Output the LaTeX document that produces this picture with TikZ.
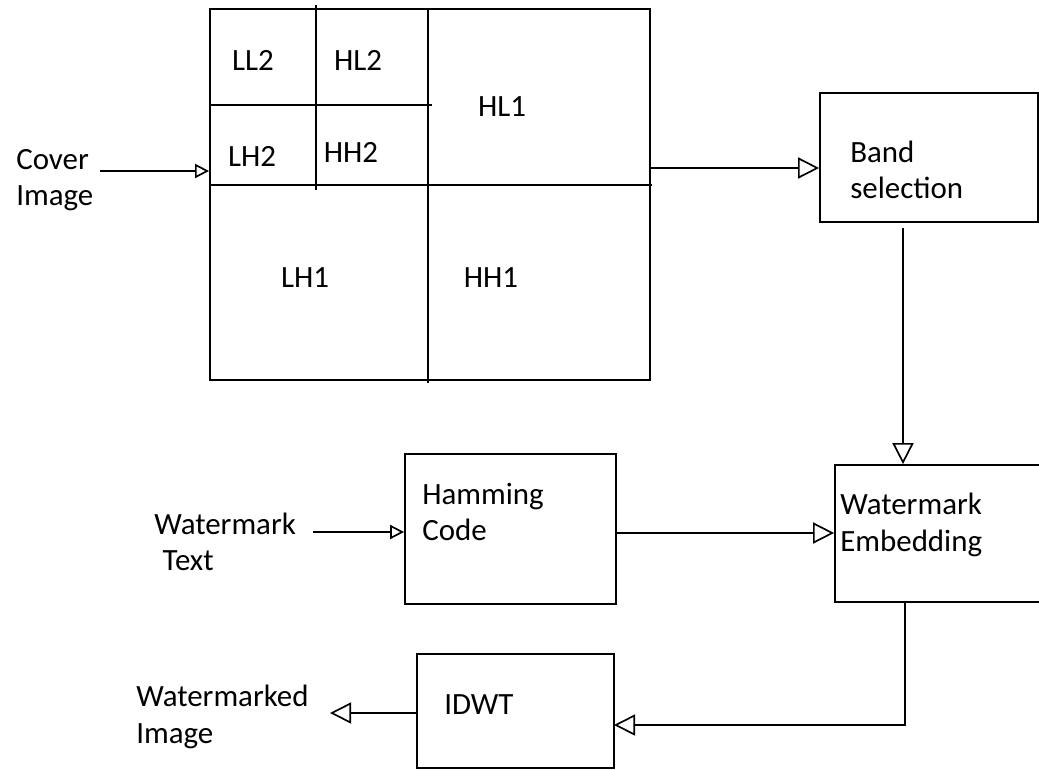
\documentclass[tikz,border=0pt]{standalone}
\usepackage{fontspec}
\setmainfont{Carlito}
\usepackage{tikz}
\usetikzlibrary{positioning, arrows.meta}
\tikzset{
    base/.style={draw, line width=1.2pt},
    block/.style={base, rectangle, inner sep=0pt},
    label/.style={inner sep=0pt, align=left, font=\fontsize{22}{26}\selectfont},
    band/.style={inner sep=0pt, font=\fontsize{22}{26}\selectfont},
    arrow/.style={line width=1.2pt, -{Triangle[open, length=15pt, width=15pt]}},
    smallarrow/.style={line width=1.2pt, -{Triangle[open, length=10pt, width=10pt]}},
    line/.style={draw, line width=1.2pt}
}

\begin{document}
\begin{tikzpicture}[x=0.025cm, y=-0.025cm]
    \useasboundingbox (0,0) rectangle (1039,770);

    % Decomposition
    \node[block, minimum width=11cm, minimum height=9.275cm] (dwt) at (430,194.5) {};
    \draw[line] (210,185) -- (652,185);
    \draw[line] (428,9) -- (428,383);
    \draw[line] (316,5) -- (316,190);
    \draw[line] (210,105) -- (432,105);

    \node[band] (ll2) at (253,60) {LL2};
    \node[band] (hl2) at (358,60) {HL2};
    \node[band] (hl1) at (502,107) {HL1};
    \node[band] (lh2) at (252,156) {LH2};
    \node[band] (hh2) at (351,152) {HH2};
    \node[band] (lh1) at (305,278) {LH1};
    \node[band] (hh1) at (491,278) {HH1};

    % Blocks
    \node[block, minimum width=5.45cm, minimum height=3.225cm] (select) at (929,157.5) {};
    \node[block, minimum width=5.3cm, minimum height=3.425cm] (embed) at (941,533.5) {};
    \node[block, minimum width=5.275cm, minimum height=3.75cm] (hamming) at (510.5,529) {};
    \node[block, minimum width=4.925cm, minimum height=2.85cm] (idwt) at (515.5,711) {};

    \node[label, anchor=west] (selecttxt) at (850,170) {Band\\selection};
    \node[label, anchor=west] (embedtxt) at (840,525) {Watermark\\Embedding};
    \node[label, anchor=west] (hammingtxt) at (422,512) {Hamming\\Code};
    \node[label, anchor=west] (idwttxt) at (444,705) {IDWT};

    % Inputs and output
    \node[label, anchor=west] (cover) at (16,180) {Cover\\Image};
    \node[label, anchor=west] (wmtext) at (154,542) {Watermark\\\hspace{6pt}Text};
    \node[label, anchor=west] (wmimage) at (136,717) {Watermarked\\Image};

    % Connectors
    \coordinate (cin) at (100,171);
    \draw[smallarrow] (cin) -- (cin -| dwt.west);

    \coordinate (bout) at (650,168);
    \draw[arrow] (bout) -- (bout -| select.west);

    \coordinate (bdown) at (903,228);
    \draw[arrow] (bdown) -- (bdown |- embed.north);

    \coordinate (win) at (313,532);
    \draw[smallarrow] (win) -- (win -| hamming.west);

    \coordinate (hout) at (616,533);
    \draw[arrow] (hout) -- (hout -| embed.west);

    \coordinate (eout) at (905,602);
    \coordinate (iin) at (614,725);
    \draw[arrow] (eout) |- (iin);

    \coordinate (wout) at (330,713);
    \draw[arrow] (wout -| idwt.west) -- (wout);
\end{tikzpicture}
\end{document}
